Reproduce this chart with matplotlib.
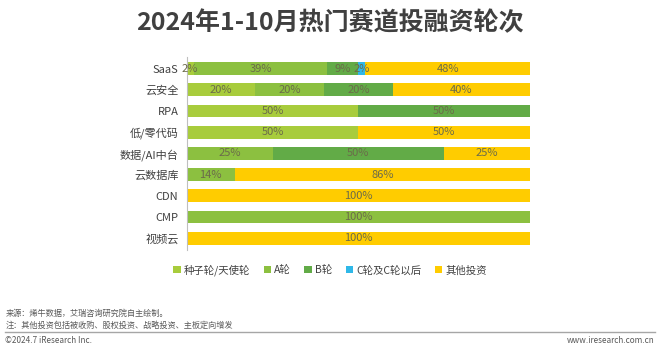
import matplotlib.pyplot as plt
from matplotlib.patches import Patch
import numpy as np

plt.rcParams['font.family'] = ['Noto Sans CJK SC', 'DejaVu Sans']

tracks = ['SaaS', '云安全', 'RPA', '低/零代码', '数据/AI中台', '云数据库', 'CDN', 'CMP', '视频云']
rounds = ['种子轮/天使轮', 'A轮', 'B轮', 'C轮及C轮以后', '其他投资']
seed = [2, 20, 50, 50, 0, 0, 0, 0, 0]
round_a = [39, 20, 0, 0, 25, 14, 0, 100, 0]
round_b = [9, 20, 50, 0, 50, 0, 0, 0, 0]
round_c = [2, 0, 0, 0, 0, 0, 0, 0, 0]
other = [48, 40, 0, 50, 25, 86, 100, 0, 100]
colors = ['#a8cc3c', '#8cc040', '#62ab47', '#2fb8e8', '#ffcc00']

series = [seed, round_a, round_b, round_c, other]

fig = plt.figure(figsize=(6.6, 3.49), dpi=100)
ax = fig.add_axes([0.283, 0.284, 0.52, 0.553])

y = np.arange(len(tracks))
left = np.zeros(len(tracks))
for vals, c in zip(series, colors):
    vals = np.array(vals, dtype=float)
    ax.barh(y, vals, left=left, height=0.6, color=c, edgecolor='none')
    for yi, v, l in zip(y, vals, left):
        if v > 0:
            ax.text(l + v / 2, yi, f'{int(v)}%', ha='center', va='center',
                    fontsize=8, color='#6b6b4a')
    left += vals

ax.set_xlim(0, 100)
ax.set_ylim(len(tracks) - 0.45, -0.55)
ax.set_yticks(y)
ax.set_yticklabels(tracks, fontsize=8, color='#404040')
ax.tick_params(axis='y', length=0, pad=6)
ax.set_xticks([])
for s in ['top', 'right', 'bottom']:
    ax.spines[s].set_visible(False)
ax.spines['left'].set_color('#bfbfbf')
ax.spines['left'].set_linewidth(0.8)

fig.text(0.5, 0.935, '2024年1-10月热门赛道投融资轮次', ha='center', va='center',
         fontsize=18, fontweight='bold', color='#404040')

handles = [Patch(facecolor=c, edgecolor='none') for c in colors]
fig.legend(handles, rounds, loc='center', bbox_to_anchor=(0.5, 0.226), ncol=5,
           frameon=False, fontsize=7.5, handlelength=0.7, handleheight=0.7,
           handletextpad=0.3, columnspacing=1.3, labelcolor='#404040')

# footer: source, note, rule and credits
fig.text(0.008, 0.103, '来源：烯牛数据，艾瑞咨询研究院自主绘制。', fontsize=5.9, color='#595959', va='center')
fig.text(0.008, 0.068, '注：其他投资包括被收购、股权投资、战略投资、主板定向增发', fontsize=5.9, color='#595959', va='center')
fig.add_artist(plt.Line2D([0.008, 0.992], [0.05, 0.05], color='#a6a6a6', linewidth=1))
fig.text(0.008, 0.025, '©2024.7 iResearch Inc.', fontsize=5.9, color='#595959', va='center')
fig.text(0.992, 0.025, 'www.iresearch.com.cn', fontsize=5.9, color='#595959', va='center', ha='right')

fig.savefig('out.png', dpi=100)
